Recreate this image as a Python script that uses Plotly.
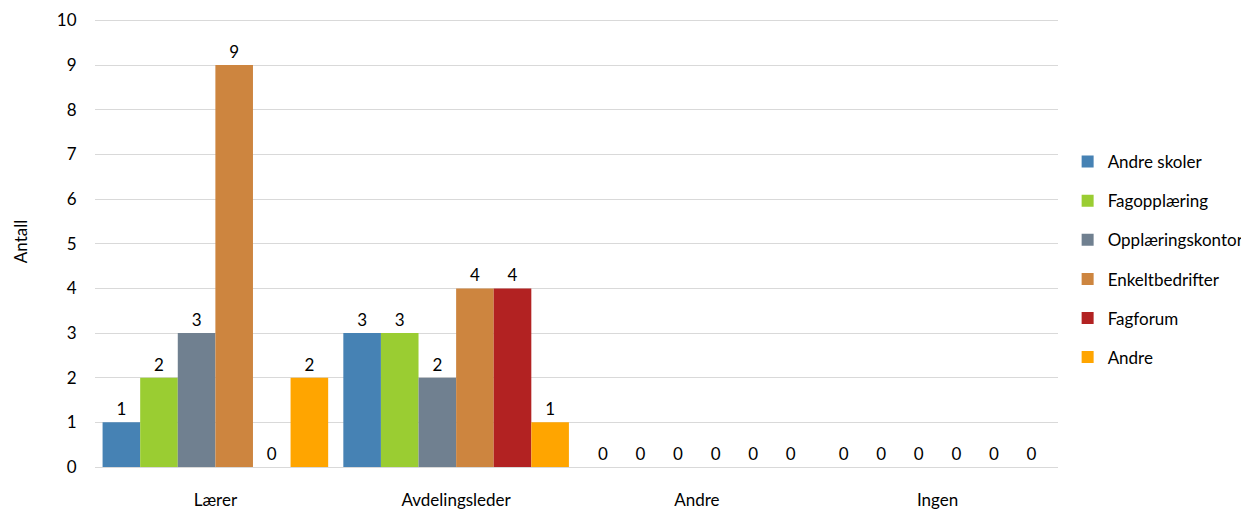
import plotly.graph_objects as go

categories = ["Lærer", "Avdelingsleder", "Andre", "Ingen"]
series_names = ["Andre skoler", "Fagopplæring", "Opplæringskontor", "Enkeltbedrifter", "Fagforum", "Andre"]
andre_skoler = [1, 3, 0, 0]
fagopplaering = [2, 3, 0, 0]
opplaeringskontor = [3, 2, 0, 0]
enkeltbedrifter = [9, 4, 0, 0]
fagforum = [0, 4, 0, 0]
andre = [2, 1, 0, 0]
colors = ["#4682B4", "#9ACD32", "#708090", "#CD853F", "#B22222", "#FFA500"]

values = [andre_skoler, fagopplaering, opplaeringskontor, enkeltbedrifter, fagforum, andre]
FONT = "Lato, Carlito, Calibri, sans-serif"
FS = 17

fig = go.Figure()
for i, (name, vals) in enumerate(zip(series_names, values)):
    fig.add_trace(go.Bar(
        name=name, x=categories, y=vals,
        marker=dict(color=colors[i], line=dict(width=0)),
        text=[str(v) for v in vals], textposition="outside",
        textfont=dict(family=FONT, size=FS, color="#000000"),
        cliponaxis=False, legendgroup=name,
    ))

fig.update_layout(
    width=1241, height=509,
    margin=dict(l=95, r=183, t=16, b=42, autoexpand=False),
    barmode="group", bargap=0.063, bargroupgap=0,
    plot_bgcolor="white", paper_bgcolor="white",
    font=dict(family=FONT, size=FS, color="#000000"),
    legend=dict(x=1.010, y=0.46, xanchor="left", yanchor="middle",
                font=dict(family=FONT, size=FS), tracegroupgap=14,
                itemwidth=30),
    xaxis=dict(showgrid=False, showline=False, ticks="outside", ticklen=18,
               tickcolor="rgba(0,0,0,0)", tickfont=dict(size=FS)),
    yaxis=dict(range=[0, 10.1], tickvals=list(range(0, 11)), showgrid=True,
               gridcolor="#D9D9D9", gridwidth=1, zeroline=True,
               zerolinecolor="#D9D9D9", zerolinewidth=1,
               ticks="outside", ticklen=14, tickcolor="rgba(0,0,0,0)",
               tickfont=dict(size=FS),
               title=dict(text="Antall", font=dict(size=FS), standoff=24)),
    showlegend=True,
)

fig.write_html("out.html", config={"displayModeBar": False},
               post_script="document.body.style.margin='0';")
